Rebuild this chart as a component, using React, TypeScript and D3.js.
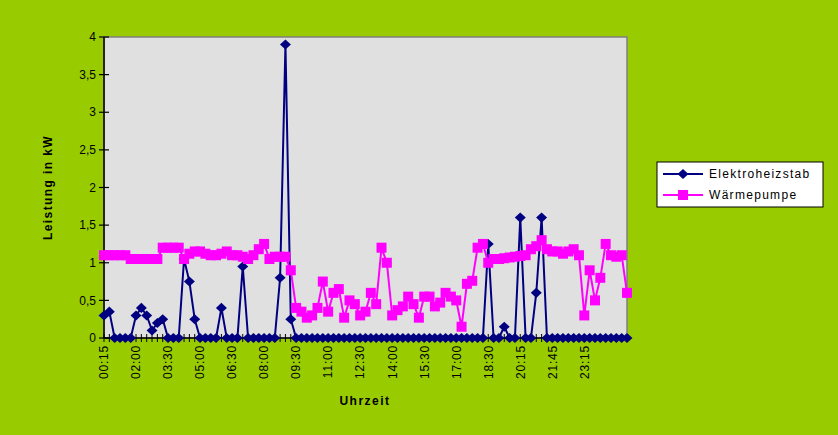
import * as d3 from 'd3'

// Leistung in kW, eine Messung pro Kategorie (Viertelstunde)
const elektroheizstab: number[] = [
  0.3, 0.35, 0, 0, 0, 0, 0.3, 0.4, 0.3, 0.1,
  0.2, 0.25, 0, 0, 0, 1.05, 0.75, 0.25, 0, 0,
  0, 0, 0.4, 0, 0, 0, 0.95, 0, 0, 0,
  0, 0, 0, 0.8, 3.9, 0.25, 0, 0, 0, 0,
  0, 0, 0, 0, 0, 0, 0, 0, 0, 0,
  0, 0, 0, 0, 0, 0, 0, 0, 0, 0,
  0, 0, 0, 0, 0, 0, 0, 0, 0, 0,
  0, 0, 1.25, 0, 0, 0.15, 0, 0, 1.6, 0,
  0, 0.6, 1.6, 0, 0, 0, 0, 0, 0, 0,
  0, 0, 0, 0, 0, 0, 0, 0, 0,
]

const waermepumpe: number[] = [
  1.1, 1.1, 1.1, 1.1, 1.1, 1.05, 1.05, 1.05, 1.05, 1.05,
  1.05, 1.2, 1.2, 1.2, 1.2, 1.05, 1.12, 1.15, 1.15, 1.12,
  1.1, 1.1, 1.12, 1.15, 1.1, 1.1, 1.08, 1.05, 1.1, 1.18,
  1.25, 1.05, 1.08, 1.08, 1.08, 0.9, 0.4, 0.35, 0.27, 0.3,
  0.4, 0.75, 0.35, 0.6, 0.65, 0.27, 0.5, 0.45, 0.3, 0.35,
  0.6, 0.45, 1.2, 1.0, 0.3, 0.37, 0.42, 0.55, 0.45, 0.27,
  0.55, 0.55, 0.42, 0.47, 0.6, 0.55, 0.5, 0.15, 0.72, 0.76,
  1.2, 1.25, 1.0, 1.05, 1.05, 1.06, 1.07, 1.08, 1.09, 1.1,
  1.18, 1.22, 1.3, 1.18, 1.15, 1.15, 1.12, 1.15, 1.18, 1.1,
  0.3, 0.9, 0.5, 0.8, 1.25, 1.1, 1.08, 1.1, 0.6,
]

// Beschriftung jeder 6. Kategorie
const timeLabels: string[] = [
  '00:15', '02:00', '03:30', '05:00', '06:30', '08:00', '09:30', '11:00',
  '12:30', '14:00', '15:30', '17:00', '18:30', '20:15', '21:45', '23:15',
]

const yTicks: number[] = [0, 0.5, 1, 1.5, 2, 2.5, 3, 3.5, 4]

const seriesNames: string[] = ['Elektroheizstab', 'Wärmepumpe']

const W = 838, H = 435
const plot = { left: 104, right: 627, top: 37, bottom: 338 }
const GREEN = '#99cc00'
const BLUE = '#000080'
const PINK = '#ff00ff'
const FONT = '"Liberation Sans", Arial, sans-serif'

// Raute wie bei Excel (breit)
const diamondType: d3.SymbolType = {
  draw(ctx, size) {
    const r = Math.sqrt(size / 2)
    ctx.moveTo(0, -r * 0.92)
    ctx.lineTo(r, 0)
    ctx.lineTo(0, r * 0.92)
    ctx.lineTo(-r, 0)
    ctx.closePath()
  },
}

export default function App() {
  const idx = d3.range(waermepumpe.length)
  const x = d3.scalePoint<number>().domain(idx).range([plot.left, plot.right])
  const y = d3.scaleLinear().domain([0, 4]).range([plot.bottom, plot.top])
  const fmt = (v: number) => String(v).replace('.', ',')

  const line = (vals: number[]) =>
    d3.line<number>().x((_, i) => x(i) as number).y(d => y(d))(vals) || ''

  const diamond = d3.symbol(diamondType, 60)()
  const square = d3.symbol(d3.symbolSquare, 100)()

  return (
    <svg width={W} height={H} style={{ position: 'absolute', left: 0, top: 0 }}
      fontFamily={FONT}>
      <rect x={0} y={0} width={W} height={H} fill={GREEN} />
      <rect x={plot.left} y={plot.top} width={plot.right - plot.left} height={plot.bottom - plot.top}
        fill="#e0e0e0" stroke="#808080" strokeWidth={1.5} />

      {/* y-Achse */}
      <line x1={plot.left} x2={plot.left} y1={plot.top} y2={plot.bottom} stroke="#000" strokeWidth={1.5} />
      {yTicks.map(t => (
        <g key={t}>
          <line x1={plot.left - 5} x2={plot.left + 5} y1={y(t)} y2={y(t)} stroke="#000" strokeWidth={1.2} />
          <text x={plot.left - 8} y={y(t)} dy="0.35em" textAnchor="end" fontSize={12}>{fmt(t)}</text>
        </g>
      ))}
      <text transform={`translate(52,${(plot.top + plot.bottom) / 2}) rotate(-90)`} textAnchor="middle"
        fontSize={12} fontWeight="bold" letterSpacing={1.4}>Leistung in kW</text>

      {/* x-Achse */}
      <line x1={plot.left} x2={plot.right} y1={plot.bottom} y2={plot.bottom} stroke="#000" strokeWidth={1.5} />
      {idx.map(i => (
        <line key={i} x1={x(i)} x2={x(i)} y1={plot.bottom - 4} y2={plot.bottom + 4} stroke="#000" strokeWidth={1} />
      ))}
      {timeLabels.map((lab, k) => (
        <text key={lab} transform={`translate(${x(k * 6)},${plot.bottom + 7}) rotate(-90)`}
          textAnchor="end" dy="0.36em" fontSize={12} letterSpacing={0.8}>{lab}</text>
      ))}
      <text x={365} y={405} textAnchor="middle" fontSize={12} fontWeight="bold" letterSpacing={1.5}>Uhrzeit</text>

      {/* Elektroheizstab */}
      <path d={line(elektroheizstab)} fill="none" stroke={BLUE} strokeWidth={2} />
      {elektroheizstab.map((v, i) => (
        <path key={i} d={diamond} transform={`translate(${x(i)},${y(v)})`} fill={BLUE} />
      ))}

      {/* Wärmepumpe */}
      <path d={line(waermepumpe)} fill="none" stroke={PINK} strokeWidth={2} />
      {waermepumpe.map((v, i) => (
        <path key={i} d={square} transform={`translate(${x(i)},${y(v)})`} fill={PINK} />
      ))}

      {/* Legende */}
      <rect x={657} y={162} width={166} height={45} fill="#fff" stroke="#000" strokeWidth={1} />
      {seriesNames.map((name, k) => {
        const ly = 174 + k * 21
        return (
          <g key={name}>
            <line x1={663} x2={703} y1={ly} y2={ly} stroke={k === 0 ? BLUE : PINK} strokeWidth={2} />
            <path d={k === 0 ? diamond : square} transform={`translate(683,${ly})`} fill={k === 0 ? BLUE : PINK} />
            <text x={709} y={ly} dy="0.36em" fontSize={12} letterSpacing={1.3}>{name}</text>
          </g>
        )
      })}
    </svg>
  )
}
